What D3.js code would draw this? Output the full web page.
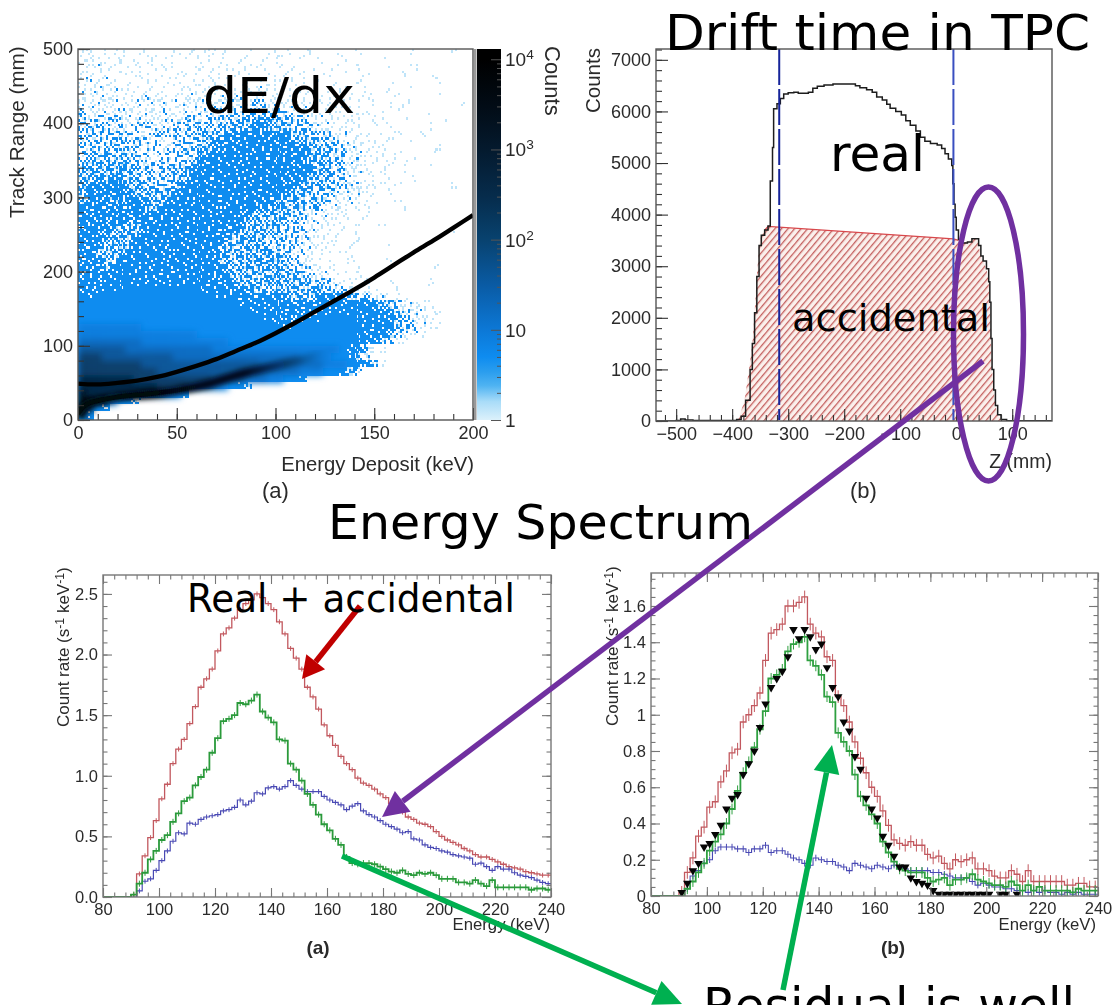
<!DOCTYPE html>
<html><head><meta charset="utf-8">
<script src="https://cdn.jsdelivr.net/npm/d3@7"></script>
<style>html,body{margin:0;padding:0;background:#fff}svg{display:block}</style></head>
<body><svg id="c" width="1118" height="1005"></svg>
<script>
// ---------- DATA ----------
// (a) top-left: density levels, row = 10 mm (top row 490-500), column = 4 keV
const heatRows = [
"11011101100110101110010010100100100100000010000100",
"12110101110101011010110101001010010000100000000000",
"11211011011100110111011101010100100100010010000000",
"21110111101011101101110110101001010010000100100000",
"12121010110110111110110111011010100100010000010000",
"21212111111011111211121211111101010010010010000000",
"22122111211211212122222222111111101011001000010000",
"22222122122122222222223322222111111101010100000010",
"32222222222222222233333333322211111110101000100000",
"32323222222223323333344443333221111101100100001000",
"33332323322233333344445544433322111101010000100000",
"33333332233333334445555555544333221110101001000000",
"33333333322233334555566655544433322111010010000000",
"33333333232233344556666665555444332211101000010000",
"33443333322333345566666665555444332211101010000000",
"34444433333333455666666666655444332211010100100000",
"44444443333334556666666666665544332211100100000000",
"44545444333344566666666666655444332111010010000000",
"45555544433345666666666666554443332211101000000100",
"45555554444456666666666655544433322211010000000000",
"45554555544566666666665554444333222111001000000000",
"55555555545666666666655544444332221110100100000000",
"55555555556666666665554444433222111010000000000000",
"55555544556666666655544444332221110100100000000000",
"55554444566666666655544443333221110100000000000100",
"55544445666666666554444433332211100100000000000000",
"55544446666666666544444333332211101000010000000000",
"55444466666666666544444443322111010000000000000000",
"55544666666666666544444444332111001000010000000000",
"55546666666666666654444444433211100100000000010000",
"55566666666666666554444444443322110100000000000000",
"66666666666666666555444444444333211110010000100000",
"66666677777777766655554444444443332111001000000000",
"66777777777777777666555555544455554332211100000000",
"77777777777777777777666655555555666665443221100000",
"77777777777777777777776655555566666666654322110000",
"77777777777777777777777665555667777666654322110000",
"88888888777777777777777776667777777766654332110000",
"88888888888888877777777777777777777666543221000000",
"99999999888888888887777777777777777665432100000000",
"aaaaaa99999999999888888888888888876542100000000000",
"bbbaaaaaaaaa99999999999999998888776420000000000000",
"bbbbbbbbaaaaaaaaaaaaaaa99999999888765410000000000",
"bbbbbbbbbbaaaaaaaaaaaa99999988877643",
"cccccccbbbbbbbbbbaaaa99988765",
"ccccccccccbbbbaaa98764",
"dcccccccccb986",
"ddcc8764",
"dc75",
"d6"
];
const levelCounts = {7:5,8:8,9:16,a:40,b:120,c:500,d:5000};
const speckleShare = {1:.1,2:.26,3:.46,4:.65,5:.8,6:.9};
const speckleOrder = [
"7c2e915ab03fd846e1a7305c","a04d6f28c7e1935bb2d84f69","3e91b75d04a8fc26731ec05a","d6208fc3e96b1475fa9d2b86",
"15b7a4096d3e82cb048e61f3","f83ce21b75a90fd46b3a97c2","46092d8f31c6e7158d25f0ab","bc71e5a64f0923ba6c1e84d7",
"2a9f03c8d7b51e40f93a7b06","e5648b1f2a96dc387160cd29","0d37ce5096f4a12be8d4592f","91fa46e3b817305c62a0f7b8",
"68c2d07a5ec49bf1394e1d03","b35e91fc2068d7a5cb7284f6","4a076db38f1e4263057fa91c","f1c8239ae56b0cd9e8b63d20",
"7625e0b14d9837f1a4029c5e","d09bfa736c25ae60c5d7e138","3ea418c5f0b9741b3f682a6d","8162d9273ed5c08e9071fb45",
"c5f73ea06b481f26dab4c390","0b48916df2a7e953716e0a8d","e6a2dc30857bc04ff2958b17","392f75b1e4096d1ac8633ed4"];
const ridgeE = [0,5,10,20,30,40,50,60,70,80,90,100,110,120,130,140,150,160,170,180,190,200];
const ridgeR = [49,48,48,50,53,58,65,73,82,93,104,117,131,146,161,176,192,209,226,242,259,276];
const bandE = [0,2,5,10,20,35,50,65,80,95,110,125];
const bandR = [8,16,22,26,31,35,40,48,60,70,79,90];
const colorTicks = [1,10,100,1000,10000];
// (b) top-right
const realZ = [-536,-500,-492,-484,-470,-400,-392,-384,-376,-368,-364,-360,-356,-352,-348,-342,-336,-332,-328,-326,-320,-314,-308,-300,-290,-282,-272,-264,-256,-248,-236,-220,-190,-180,-172,-160,-150,-142,-132,-124,-118,-108,-98,-90,-82,-72,-64,-56,-46,-34,-26,-20,-14,-8,-6,-4,-2,0,4,8,20,28,36,40,44,48,54,58,60,62,64,67,70,74,80,90,170];
const realCounts = [0,10,40,20,10,10,30,90,400,1000,1500,2100,2800,3400,3600,3700,3780,4650,5300,6050,6150,6250,6340,6360,6370,6350,6350,6370,6450,6490,6510,6530,6530,6500,6460,6420,6370,6280,6220,6140,6060,6000,5930,5820,5730,5620,5500,5420,5380,5350,5280,5180,5080,4950,4600,4200,3950,3700,3520,3450,3470,3530,3530,3400,3200,3100,2950,2700,2300,1600,1000,600,300,120,30,5,0];
const accZ = [-396,-388,-378,-370,-364,-360,-356,-352,-348,-342,-336,-5,4,8,20,28,36,40,44,48,54,58,60,62,64,67,70,74,80,90];
const accCounts = [0,60,400,1000,1500,2100,2800,3400,3600,3700,3770,3530,3500,3450,3470,3530,3530,3400,3200,3100,2950,2700,2300,1600,1000,600,300,120,30,0];
const cutZ = [-316,-5];
// lower panels: 2 keV bins from 90 keV
const binStart = d3.range(90,240,2);
const lowRed = [.02,.19,.34,.49,.63,.81,.93,1.10,1.22,1.30,1.43,1.57,1.73,1.80,1.88,2.03,2.17,2.22,2.30,2.37,2.42,2.45,2.50,2.47,2.42,2.37,2.27,2.17,2.05,1.97,1.88,1.73,1.65,1.55,1.42,1.33,1.25,1.16,1.10,1.05,.98,.94,.92,.89,.85,.82,.77,.73,.70,.66,.64,.61,.60,.58,.54,.50,.47,.45,.43,.40,.38,.35,.33,.33,.31,.29,.27,.25,.24,.23,.21,.20,.19,.18,.18];
const lowGreen = [.02,.11,.20,.31,.38,.47,.51,.62,.69,.79,.82,.92,.99,1.05,1.19,1.31,1.45,1.47,1.50,1.60,1.59,1.62,1.67,1.53,1.48,1.44,1.30,1.29,1.10,1.05,.96,.85,.76,.68,.60,.55,.48,.43,.33,.28,.27,.28,.28,.27,.25,.23,.21,.20,.22,.19,.18,.20,.19,.20,.18,.15,.15,.15,.12,.12,.11,.14,.11,.09,.14,.08,.08,.08,.08,.08,.08,.06,.07,.07,.06];
const lowBlue = [0,.05,.13,.15,.22,.30,.38,.46,.53,.52,.61,.60,.64,.66,.67,.68,.71,.72,.74,.80,.76,.79,.86,.85,.90,.91,.89,.91,.96,.92,.89,.87,.87,.87,.83,.80,.78,.76,.72,.75,.77,.71,.68,.66,.63,.60,.58,.56,.53,.54,.48,.47,.43,.41,.40,.38,.37,.35,.34,.33,.32,.27,.28,.25,.22,.25,.23,.23,.20,.18,.17,.16,.14,.12,.11];
const subRed = [.02,.13,.21,.33,.38,.49,.52,.63,.69,.79,.81,.96,1.0,1.05,1.12,1.30,1.45,1.47,1.50,1.60,1.60,1.62,1.65,1.50,1.45,1.43,1.32,1.30,1.10,1.05,.96,.85,.76,.68,.60,.55,.47,.39,.31,.29,.28,.30,.28,.28,.23,.21,.22,.18,.15,.20,.19,.20,.21,.15,.15,.14,.11,.10,.10,.14,.12,.08,.14,.08,.08,.08,.08,.08,.08,.06,.06,.07,.07,.05,.05];
const subGreen = [0,.04,.08,.13,.18,.25,.30,.34,.40,.48,.58,.68,.74,.82,.92,1.02,1.20,1.22,1.25,1.35,1.39,1.40,1.43,1.30,1.27,1.22,1.10,1.07,.90,.85,.80,.67,.55,.50,.45,.40,.30,.24,.19,.15,.14,.13,.13,.13,.10,.08,.09,.10,.06,.09,.09,.10,.12,.09,.08,.07,.06,.06,.05,.08,.06,.03,.06,.03,.05,.03,.03,.03,.03,.03,.02,.04,.03,.03,.03];
const subBlue = [0,.04,.11,.14,.18,.20,.25,.27,.27,.27,.26,.26,.24,.26,.26,.28,.24,.25,.25,.23,.21,.20,.18,.17,.21,.20,.19,.19,.17,.16,.14,.18,.17,.16,.15,.17,.16,.15,.17,.16,.15,.14,.14,.14,.14,.13,.13,.12,.11,.10,.10,.10,.08,.06,.07,.06,.05,.05,.04,.04,.03,.03,.02,.03,.02,.03,.02,.02,.01,.02,.01,.02,.01,.01,.01];
const dataE = [91,93,95,97,99,101,103,105,107,109,111,113,115,117,119,121,123,125,127,129,131,133,135,137,139,141,143,145,147,149,151,153,155,157,159,161,163,165,167,169,171,173,175,177,179,181,183,185,187,189,191,193,195,197,199,201,205,207,211];
const dataRate = [.02,.07,.14,.18,.27,.29,.34,.39,.48,.54,.56,.67,.73,.80,.93,1.06,1.15,1.20,1.24,1.32,1.47,1.42,1.47,1.43,1.36,1.39,1.26,1.15,1.10,.96,.91,.77,.70,.54,.48,.43,.33,.28,.22,.16,.16,.10,.08,.07,.06,.03,.01,.01,.01,.01,.01,.01,.01,.01,.01,.01,.01,.01,.01];

// ---------- HELPERS ----------
const FONT = "'Liberation Sans',Arial,sans-serif", HAND = "'DejaVu Sans',sans-serif";
const svg = d3.select("#c");
svg.append("rect").attr("width",1118).attr("height",1005).attr("fill","#fff");
const defs = svg.append("defs");
const blur = (id,s)=>defs.append("filter").attr("id",id).attr("x","-5%").attr("y","-5%").attr("width","110%").attr("height","110%").append("feGaussianBlur").attr("stdDeviation",s);
blur("soft2",3); blur("t",.4); blur("l",.5); blur("wide",2.6);
const clip=(id,x,y)=>defs.append("clipPath").attr("id",id).append("rect").attr("x",x.range()[0]).attr("y",y.range()[1]).attr("width",x.range()[1]-x.range()[0]).attr("height",y.range()[0]-y.range()[1]);

function frame(g,x,y,o){
  const [l,r]=x.range(),[b,t]=y.range(), ink=o.ink||"#555";
  const tick=(gen,tx,vals,len,fmt)=>{
    const a=g.append("g").attr("transform",tx).call(gen.tickValues(vals).tickSize(-len).tickSizeOuter(0).tickFormat(fmt||""));
    a.select(".domain").remove();
    a.selectAll("line").attr("stroke",o.tickInk||ink).attr("stroke-width",1.1);
    a.selectAll("text").attr("font-family",FONT).attr("font-size",o.fs).attr("fill","#2a2a2a").attr("filter","url(#t)");
    return a;
  };
  const xa=tick(d3.axisBottom(x),`translate(0,${b})`,o.xMajor,o.maj,o.xFmt||(d=>String(d).replace("-","\u2212")));
  xa.selectAll("text").attr("dy","0.9em").attr("y",3);
  tick(d3.axisBottom(x),`translate(0,${b})`,o.xMinor,o.min);
  const ya=tick(d3.axisLeft(y),`translate(${l},0)`,o.yMajor,0,o.yFmt||String);
  ya.selectAll("line").remove();
  ya.selectAll("text").attr("x",-5);
  tick(d3.axisRight(y),`translate(${l},0)`,o.yMajor,-o.maj);
  tick(d3.axisRight(y),`translate(${l},0)`,o.yMinor,-o.min);
  if(o.allSides){
    tick(d3.axisTop(x),`translate(0,${t})`,o.xMajor,o.maj);
    tick(d3.axisTop(x),`translate(0,${t})`,o.xMinor,o.min);
    tick(d3.axisLeft(y),`translate(${r},0)`,o.yMajor,-o.maj);
    tick(d3.axisLeft(y),`translate(${r},0)`,o.yMinor,-o.min);
  }
  g.append("rect").attr("x",l).attr("y",t).attr("width",r-l).attr("height",b-t).attr("fill","none").attr("stroke",ink).attr("stroke-width",1.4);
}
const label=(g,str,x,y,fs,o={})=>{
  const t=g.append("text").attr("transform",`translate(${x},${y})`+(o.rot?` rotate(${o.rot})`:"")).attr("font-family",o.family||FONT).attr("font-size",fs)
   .attr("font-weight",o.bold?"bold":null).attr("fill",o.fill||"#2a2a2a").attr("text-anchor",o.anchor||"start").attr("filter","url(#t)");
  if(Array.isArray(str)) str.forEach(s=>{const ts=t.append("tspan").text(s[0]); if(s[1]) ts.attr("dy",s[1]); if(s[2]) ts.attr("font-size",fs*.72);});
  else t.text(str);
  return t;
};

// ---------- PANEL (a) TOP LEFT ----------
{
  const g=svg.append("g");
  const x=d3.scaleLinear([0,200],[78,473]), y=d3.scaleLinear([0,500],[420,49]);
  const cb=d3.scaleLog([1,13000],[420,49]);
  const stops=[[1,"#dcf1fb"],[1.6,"#a9dcf8"],[2.4,"#4fb3f2"],[3.4,"#2b9eee"],[5,"#0e8cf0"],[10,"#0c78d6"],[30,"#0a5ca6"],[100,"#08426f"],[300,"#062c4c"],[1000,"#041a2e"],[3000,"#020c16"],[10000,"#000"]];
  const col=d3.scaleLog(stops.map(d=>d[0]),stops.map(d=>d[1])).clamp(true);
  clip("ca",x,y);
  const lay=g.append("g").attr("clip-path","url(#ca)");
  // fine bins 1 keV x 3 mm; sparse levels fill a share of the bins following the typed order table, dense levels fill all
  const fine=[];
  d3.range(0,200).forEach(i=>d3.range(0,167).forEach(j=>{
    const mm=j*3, row=heatRows[49-Math.floor(mm/10)], c=row.charAt(Math.floor(i/4));
    const share=speckleShare[c]||(levelCounts[c]?1.1:0); if(!share) return;
    const v=parseInt(speckleOrder[(j+5*Math.floor(i/24))%24][(i+11*Math.floor(j/24))%24],16);
    if((v+.5)/16>=share) return;
    const L=+c;
    const pale=L<3? v%3!==2 : (L<4? v%4===1 : (L<5? v%5===1 : false));
    const teal=L<3 && v%6===5;
    fine.push({e:i,mm,fill:teal?"#4a94c4":pale?"#bfe4f9":"#0e8cf0"});
  }));
  const bw=x(1)-x(0)+.05, bh=y(0)-y(3)+.05;
  lay.append("g").attr("shape-rendering","crispEdges").selectAll("rect").data(fine).join("rect").attr("x",d=>x(d.e)).attr("y",d=>y(d.mm+3)).attr("width",bw).attr("height",bh).attr("fill",d=>d.fill);
  const cells=[];
  heatRows.forEach((row,r)=>[...row.slice(0,50)].forEach((c,i)=>{ if(levelCounts[c]&&c!=="7") cells.push({e:i*4,rng:490-r*10,c}); }));
  const dx=x(4)-x(0), dy=y(0)-y(10);
  lay.append("g").attr("filter","url(#soft2)").selectAll("rect").data(cells).join("rect")
    .attr("x",d=>x(d.e)).attr("y",d=>y(d.rng+10)).attr("width",dx+.1).attr("height",dy+.1).attr("fill",d=>col(levelCounts[d.c]));
  const fade=(id,o1,e1,o2,e2)=>{const G=defs.append("linearGradient").attr("id",id).attr("gradientUnits","userSpaceOnUse").attr("x1",x(0)).attr("x2",x(e2)).attr("y1",0).attr("y2",0);
     G.append("stop").attr("offset",0).attr("stop-color","#02070e").attr("stop-opacity",o1);
     G.append("stop").attr("offset",e1/e2).attr("stop-color","#02070e").attr("stop-opacity",o2);
     G.append("stop").attr("offset",1).attr("stop-color","#02070e").attr("stop-opacity",0);};
  fade("fw",1,85,.9,125); fade("fn",1,40,1,62);
  const ln=d3.line().x(d=>x(d[0])).y(d=>y(d[1])).curve(d3.curveMonotoneX);
  const band=d3.zip(bandE,bandR);
  lay.append("path").attr("d",ln(band)).attr("fill","none").attr("stroke","url(#fw)").attr("stroke-width",9).attr("filter","url(#wide)");
  lay.append("path").attr("d",ln(band.slice(0,8))).attr("fill","none").attr("stroke","url(#fn)").attr("stroke-width",4.5).attr("filter","url(#l)");
  lay.append("path").attr("d",ln(d3.zip(ridgeE,ridgeR))).attr("fill","none").attr("stroke","#050505").attr("stroke-width",4.4).attr("filter","url(#l)");
  frame(g,x,y,{xMajor:[0,50,100,150,200],xMinor:d3.range(0,201,10),yMajor:[0,100,200,300,400,500],yMinor:d3.range(0,501,20),maj:12,min:6,fs:18,tickInk:"#333"});
  const gid="cbg"; const lg=defs.append("linearGradient").attr("id",gid).attr("x1",0).attr("x2",0).attr("y1",1).attr("y2",0);
  stops.forEach(s=>lg.append("stop").attr("offset",(420-cb(s[0]))/371).attr("stop-color",s[1]));
  lg.append("stop").attr("offset",1).attr("stop-color","#000");
  g.append("rect").attr("x",477).attr("y",49).attr("width",24).attr("height",371).attr("fill",`url(#${gid})`);
  g.append("rect").attr("x",474).attr("y",49).attr("width",2.5).attr("height",371).attr("fill","#999");
  const minor=[]; colorTicks.slice(0,-1).forEach(d=>d3.range(2,10).forEach(k=>minor.push(d*k)));
  const cbAx=(vals,len)=>g.append("g").attr("transform","translate(501,0)").call(d3.axisLeft(cb).tickValues(vals).tickSize(len).tickFormat("")).call(a=>{a.select(".domain").remove();a.selectAll("line").attr("stroke","#555").attr("stroke-width",1);});
  cbAx(colorTicks,10); cbAx(minor,4);
  colorTicks.forEach(d=>{
    const e=Math.round(Math.log10(d));
    label(g,e===0?"1":e===1?"10":[["10"],[String(e),-7,true]],505,cb(d)+7,19);
  });
  label(g,"Counts",545,46,22,{rot:90});
  label(g,"Track Range (mm)",24,218,20.7,{rot:-90});
  label(g,"Energy Deposit (keV)",474,471,20.3,{anchor:"end"});
  label(g,"(a)",262,498,22);
}

// ---------- PANEL (b) TOP RIGHT ----------
{
  const g=svg.append("g");
  const x=d3.scaleLinear([-536,171],[656,1052]), y=d3.scaleLinear([0,7210],[421,49]);
  clip("cb",x,y);
  const p=defs.append("pattern").attr("id","hatch").attr("patternUnits","userSpaceOnUse").attr("width",5).attr("height",5).attr("patternTransform","rotate(-50)");
  p.append("rect").attr("width",5).attr("height",5).attr("fill","#fbf0ec");
  p.append("rect").attr("width",5).attr("height",1.3).attr("fill","#c4605f");
  const lay=g.append("g").attr("clip-path","url(#cb)");
  const acc=d3.zip(accZ,accCounts);
  lay.append("path").attr("d",d3.area().x(d=>x(d[0])).y0(y(0)).y1(d=>y(d[1]))(acc)).attr("fill","url(#hatch)");
  lay.append("path").attr("d",d3.line().x(d=>x(d[0])).y(d=>y(d[1]))(acc.slice(9,13))).attr("fill","none").attr("stroke","#d8484c").attr("stroke-width",1.2);
  lay.append("path").attr("d",d3.line().x(d=>x(d[0])).y(d=>y(d[1])).curve(d3.curveStepAfter)(d3.zip(realZ,realCounts))).attr("fill","none").attr("stroke","#1d1d1d").attr("stroke-width",1.5);
  lay.selectAll(".cut").data(cutZ).join("line").attr("class","cut").attr("x1",d=>x(d)).attr("x2",d=>x(d)).attr("y1",y.range()[1]).attr("y2",y(20))
    .attr("stroke",(d,i)=>i?"#3a4fc0":"#16249a").attr("stroke-width",2).attr("stroke-dasharray","36 4");
  frame(g,x,y,{xMajor:[-500,-400,-300,-200,-100,0,100],xMinor:d3.range(-520,171,20),yMajor:d3.range(0,7001,1000),yMinor:d3.range(0,7201,200),maj:12,min:6,fs:18,tickInk:"#333"});
  label(g,"Counts",600,113,20.5,{rot:-90});
  label(g,"Z (mm)",1052,468,19.5,{anchor:"end"});
  label(g,"(b)",850,498,22);
}

// ---------- LOWER PANELS ----------
function spectrum(id,xr,yr,ymax,o){
  const g=svg.append("g");
  const x=d3.scaleLinear([80,240],xr), y=d3.scaleLinear([0,ymax],yr);
  clip(id,x,y);
  const lay=g.append("g").attr("clip-path",`url(#${id})`);
  const step=d3.line().x(d=>x(d[0])).y(d=>y(d[1])).curve(d3.curveStepAfter);
  o.series.forEach(s=>{
    const pts=[[80,0]].concat(d3.zip(binStart,s.v),[[240,s.v[s.v.length-1]]]);
    lay.append("path").attr("d",step(pts)).attr("fill","none").attr("stroke",s.c).attr("stroke-width",s.w).attr("filter","url(#l)");
    lay.selectAll(null).data(d3.zip(binStart,s.v).filter(d=>d[1]>0)).join("line")
      .attr("x1",d=>x(d[0]+1)).attr("x2",d=>x(d[0]+1)).attr("y1",d=>y(d[1]+s.e)).attr("y2",d=>y(d[1]-s.e)).attr("stroke",s.c).attr("stroke-width",1);
  });
  if(o.points){
    const tri=d3.symbol(d3.symbolTriangle,32)();
    lay.selectAll(".pt").data(o.points).join("path").attr("class","pt").attr("d",tri).attr("fill","#050505")
      .attr("transform",d=>`translate(${x(d[0])},${y(d[1])}) rotate(180)`);
  }
  frame(g,x,y,{xMajor:d3.range(80,241,20),xMinor:d3.range(80,241,4),yMajor:o.yMajor,yMinor:o.yMinor,maj:9,min:4.5,fs:16.5,allSides:true,ink:"#777",yFmt:o.fmt});
  return g;
}
const rateLabel=[["Count rate (s"],["-1",-5,true],[" keV",5],["-1",-5,true],[")",5]];
{
  const g=spectrum("cc",[103,551],[897,575],2.656,{
    series:[{v:lowRed,c:"#c2585e",w:1.3,e:.02},{v:lowBlue,c:"#4a4ab4",w:1.2,e:.02},{v:lowGreen,c:"#2a9a3a",w:1.8,e:.025}],
    yMajor:[0,.5,1,1.5,2,2.5],yMinor:d3.range(0,2.61,.1),fmt:d3.format(".1f")});
  label(g,rateLabel,69,727,17,{rot:-90});
  label(g,"Energy (keV)",550,930,16.7,{anchor:"end"});
  label(g,"(a)",318,954,19,{bold:true,anchor:"middle"});
}
{
  const g=spectrum("cd",[651,1098],[896,573],1.782,{
    series:[{v:subRed,c:"#c2585e",w:1.3,e:.035},{v:subBlue,c:"#4a4ab4",w:1.1,e:.018},{v:subGreen,c:"#2fa040",w:1.8,e:.03}],
    points:d3.zip(dataE,dataRate),
    yMajor:[0,.2,.4,.6,.8,1,1.2,1.4,1.6],yMinor:d3.range(0,1.76,.05),fmt:d=>String(d)});
  label(g,rateLabel,618,726,17,{rot:-90});
  label(g,"Energy (keV)",1096,930,16.7,{anchor:"end"});
  label(g,"(b)",893,954,19,{bold:true,anchor:"middle"});
}

// ---------- HAND-DRAWN ANNOTATIONS ----------
{
  const g=svg.append("g");
  const arrow=(x0,y0,x1,y1,c,w,hl,hw)=>{
    const L=Math.hypot(x1-x0,y1-y0),ux=(x1-x0)/L,uy=(y1-y0)/L,bx=x1-ux*hl,by=y1-uy*hl;
    g.append("line").attr("x1",x0).attr("y1",y0).attr("x2",bx).attr("y2",by).attr("stroke",c).attr("stroke-width",w);
    g.append("polygon").attr("fill",c).attr("points",[[x1,y1],[bx-uy*hw,by+ux*hw],[bx+uy*hw,by-ux*hw]].join(" "));
  };
  g.append("ellipse").attr("cx",988.5).attr("cy",334).attr("rx",35).attr("ry",147).attr("fill","none").attr("stroke","#7030a0").attr("stroke-width",5.5);
  arrow(983,361,382,817,"#7030a0",5.5,26,13);
  arrow(360,606,302,679,"#c00000",5.5,22,12);
  arrow(342,856,682,1004,"#00b050",5.5,28,13);
  arrow(783,990,832,745,"#00b050",5.5,28,13);
  const hand=(s,x,y,fs,len)=>g.append("text").attr("x",x).attr("y",y).attr("font-family",HAND).attr("font-size",fs).attr("fill","#000")
     .attr("textLength",len).attr("lengthAdjust","spacingAndGlyphs").text(s);
  hand("dE/dx",203,113,50,152);
  hand("Drift time in TPC",665,50,50,425);
  hand("real",830,171,50,95);
  hand("accidental",792,331,38,198);
  hand("Energy Spectrum",328,539,48,425);
  hand("Real + accidental",187,612,39,328);
  hand("Residual is well",703,1023,50,372);
}
</script></body></html>
